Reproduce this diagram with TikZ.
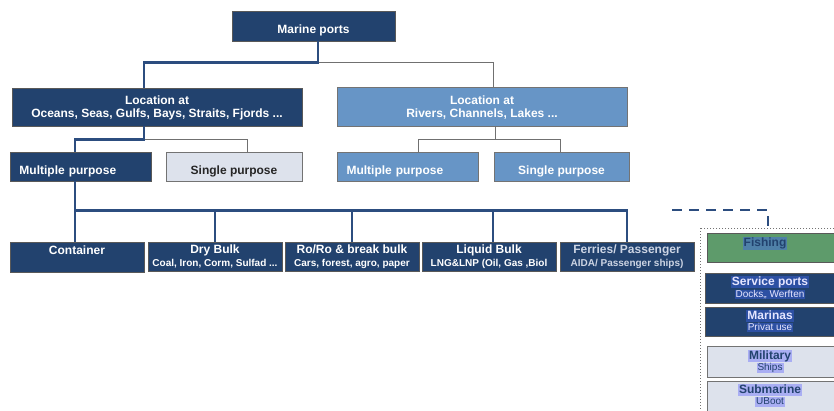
\documentclass[tikz,border=0pt]{standalone}
\usepackage{fontspec}
\setmainfont{Liberation Sans}
\usetikzlibrary{calc}
\definecolor{navy}{HTML}{22426E}
\definecolor{navyline}{HTML}{2C4D7F}
\definecolor{midblue}{HTML}{6795C6}
\definecolor{lightbox}{HTML}{DDE2EC}
\definecolor{fishgreen}{HTML}{5E9B6B}
\definecolor{hllight}{HTML}{A9AEF3}
\definecolor{hldark}{HTML}{2D50A3}
\definecolor{hlgreen}{HTML}{4F80A8}
\definecolor{ferrytext}{HTML}{CDD5E4}
\definecolor{grayline}{HTML}{707070}
\newcommand\subtxtfont{\bfseries\fontsize{10}{12}\selectfont}
\tikzset{
  boxbase/.style={inner sep=0pt, align=center, line width=0.8pt,
    font=\bfseries\fontsize{12}{13}\selectfont},
  navybox/.style={boxbase, fill=navy, draw=black!65, text=white},
  midbox/.style={boxbase, fill=midblue, draw=black!55, text=white},
  lightbx/.style={boxbase, fill=lightbox, draw=black!55, text=black!85},
  greenbox/.style={boxbase, fill=fishgreen, draw=black!65},
  oneline/.style={text height=17pt, text depth=2pt},
  twoline/.style={text height=23pt, text depth=2pt},
  navyconn/.style={draw=navyline, line width=2.2pt},
  grayconn/.style={draw=grayline, line width=1pt},
  hltitle/.style={inner xsep=1pt, inner ysep=0pt, text height=9.5pt, text depth=3pt,
    font=\bfseries\fontsize{12}{13}\selectfont},
  hlsub/.style={inner xsep=1pt, inner ysep=0pt, text height=7.5pt, text depth=2.2pt,
    font=\fontsize{10}{12}\selectfont},
}
\begin{document}
\begin{tikzpicture}[x=1pt,y=-1pt]
\useasboundingbox (0,0) rectangle (834,410);
\clip (0,0) rectangle (834,410);
\fill[white] (0,0) rectangle (834,410);

% top levels
\node[navybox, oneline, minimum width=163pt, minimum height=30pt] (top) at (313.5,26) {Marine ports};
\node[navybox, twoline, minimum width=290pt, minimum height=38pt] (locL) at (157,107)
  {Location at\\Oceans, Seas, Gulfs, Bays, Straits, Fjords ...};
\node[midbox, twoline, minimum width=290pt, minimum height=39pt] (locR) at (482,106.5)
  {Location at\\Rivers, Channels, Lakes ...};

\node[navybox, oneline, minimum width=141pt, minimum height=29pt, text width=122pt, align=left] (mpL) at (80.5,166.5) {Multiple purpose};
\node[lightbx, oneline, minimum width=136pt, minimum height=29pt] (spL) at (234,166.5) {Single purpose};
\node[midbox, oneline, minimum width=141pt, minimum height=29pt, text width=122pt, align=left] (mpR) at (407.5,166.5) {Multiple purpose};
\node[midbox, oneline, minimum width=135pt, minimum height=29pt] (spR) at (561.5,166.5) {Single purpose};

% bottom row
\node[navybox, minimum width=134pt, minimum height=30pt] (cont) at (77,257) {Container\\\mbox{}};
\node[navybox, minimum width=134pt, minimum height=29pt] (dry) at (215,256.5)
  {Dry Bulk\\{\subtxtfont Coal, Iron, Corm, Sulfad ...}};
\node[navybox, minimum width=134pt, minimum height=29pt] (roro) at (352,256.5)
  {Ro/Ro \& break bulk\\{\subtxtfont Cars, forest, agro, paper}};
\node[navybox, minimum width=134pt, minimum height=29pt] (liq) at (489,256.5)
  {Liquid Bulk\\{\subtxtfont LNG\&LNP (Oil, Gas ,Biol}};
\node[navybox, minimum width=134pt, minimum height=29pt, text=ferrytext] (fer) at (627,256.5)
  {Ferries/ Passenger\\{\subtxtfont AIDA/ Passenger ships)}};

% connectors
\coordinate (j1) at ($(top.south)+(4.5,21)$);
\draw[grayconn] (j1) -| ([xshift=11pt]locR.north);
\draw[navyconn] ([xshift=4.5pt]top.south) -- (j1) -| ([xshift=-13pt]locL.north);

\coordinate (j2) at ($(locL.south)+(-13,13)$);
\draw[grayconn] (j2) -| ([xshift=13pt]spL.north);
\draw[navyconn] ([xshift=-13pt]locL.south) -- (j2) -| ([xshift=-5.5pt]mpL.north);

\coordinate (j3) at ($(locR.south)+(13,13)$);
\draw[grayconn] ([xshift=13pt]locR.south) -- (j3) -| ([xshift=10.5pt]mpR.north);
\draw[grayconn] (j3) -| ([xshift=-1.5pt]spR.north);

\coordinate (j4) at ($(mpL.south)+(-5.5,29)$);
\draw[navyconn] ([xshift=-5.5pt]mpL.south) -- (j4) -- ([xshift=-2pt]cont.north);
\draw[navyconn] (j4) -| (fer.north);
\draw[navyconn] (j4 -| dry.north) -- (dry.north);
\draw[navyconn] (j4 -| roro.north) -- (roro.north);
\draw[navyconn] ([xshift=4pt]j4 -| liq.north) -- ([xshift=4pt]liq.north);

% right column
\draw[black!55, line width=1pt, dotted] (700,228) rectangle (845,420);
\node[greenbox, minimum width=135pt, minimum height=29pt, anchor=north west] (fish) at (707,233) {};
\node[navybox, minimum width=135pt, minimum height=30pt, anchor=north west] (serv) at (705,273) {};
\node[navybox, minimum width=135pt, minimum height=29pt, anchor=north west] (mar) at (705,307) {};
\node[lightbx, minimum width=135pt, minimum height=31pt, anchor=north west] (mil) at (707,346) {};
\node[lightbx, minimum width=135pt, minimum height=34pt, anchor=north west] (subm) at (707,381) {};

\coordinate (dstart) at (672,210);
\draw[navyline, line width=2.5pt, dash pattern=on 10pt off 7pt] (dstart) -| ([xshift=-7pt]fish.north);

\node[hltitle, fill=hlgreen, text=navy] (fisht) at (765,243.5) {Fishing};
\node[hltitle, fill=hldark, text=white!90!blue] (servt) at (770,282) {Service ports};
\node[hlsub, fill=hldark, text=white!90!blue] (servs) at (770,294.5) {Docks,, Werften};
\node[hltitle, fill=hldark, text=white!90!blue] (mart) at (770,316) {Marinas};
\node[hlsub, fill=hldark, text=white!90!blue] (mars) at (770,327.5) {Privat use};
\node[hltitle, fill=hllight, text=navy] (milt) at (770,356) {Military};
\node[hlsub, fill=hllight, text=navy] (mils) at (770,368) {Ships};
\node[hltitle, fill=hllight, text=navy] (subt) at (770,390) {Submarine};
\node[hlsub, fill=hllight, text=navy] (subs) at (770,402) {UBoot};
\end{tikzpicture}
\end{document}
